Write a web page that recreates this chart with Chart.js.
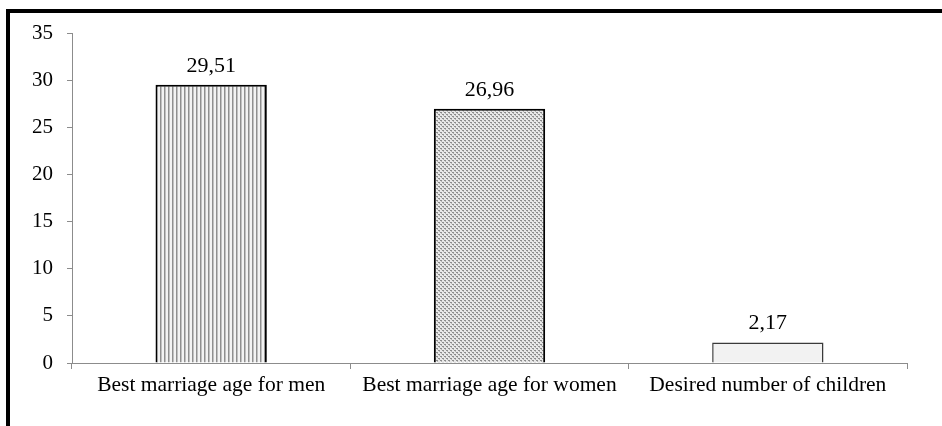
<!DOCTYPE html>
<html>
<head>
<meta charset="utf-8">
<script src="https://cdn.jsdelivr.net/npm/chart.js@4.4.1/dist/chart.umd.min.js"></script>
<style>
  html, body { margin: 0; padding: 0; background: #fff; }
  #wrap { position: relative; width: 942px; height: 426px; overflow: hidden; }
  #frame { position: absolute; left: 6px; top: 9px; width: 1000px; height: 500px;
           border-top: 4px solid #000; border-left: 4px solid #000; pointer-events: none; }
  canvas { position: absolute; left: 0; top: 0; }
</style>
</head>
<body>
<div id="wrap">
  <canvas id="chart" width="942" height="426"></canvas>
  <div id="frame"></div>
</div>
<script>
const categories = ['Best marriage age for men', 'Best marriage age for women', 'Desired number of children'];
const values = [29.51, 26.96, 2.17];
const valueLabels = ['29,51', '26,96', '2,17'];
const yTicks = [0, 5, 10, 15, 20, 25, 30, 35];

const FONT = '"Liberation Serif", "Times New Roman", serif';

// Vertical stripe fill
function stripePattern() {
  const c = document.createElement('canvas');
  c.width = 4; c.height = 4;
  const g = c.getContext('2d');
  g.fillStyle = '#f2f2f2'; g.fillRect(0, 0, 4, 4);
  g.fillStyle = '#8e8e8e'; g.fillRect(0, 0, 1, 4);
  g.fillStyle = '#c0c0c0'; g.fillRect(1, 0, 1, 4);
  return g.createPattern(c, 'repeat');
}
// Fine dotted fill
function dotPattern() {
  const c = document.createElement('canvas');
  c.width = 4; c.height = 4;
  const g = c.getContext('2d');
  g.fillStyle = '#e8e8e8'; g.fillRect(0, 0, 4, 4);
  g.fillStyle = '#8c8c8c';
  g.fillRect(0, 0, 2, 1); g.fillRect(2, 2, 2, 1);
  g.fillStyle = '#b4b4b4';
  g.fillRect(1, 1, 1, 1); g.fillRect(3, 3, 1, 1);
  return g.createPattern(c, 'repeat');
}

const valueLabelPlugin = {
  id: 'valueLabels',
  afterDatasetsDraw(chart) {
    const ctx = chart.ctx;
    const meta = chart.getDatasetMeta(0);
    ctx.save();
    ctx.font = '22px ' + FONT;
    ctx.fillStyle = '#000';
    ctx.textAlign = 'center';
    ctx.textBaseline = 'bottom';
    meta.data.forEach((bar, i) => {
      ctx.fillText(valueLabels[i], bar.x, bar.y - 8);
    });
    ctx.restore();
  }
};

new Chart(document.getElementById('chart'), {
  type: 'bar',
  data: {
    labels: categories,
    datasets: [{
      data: values,
      backgroundColor: [stripePattern(), dotPattern(), '#f2f2f2'],
      borderColor: ['#000', '#000', '#3a3a3a'],
      borderWidth: [2, 2, 1.5],
      barPercentage: 0.4,
      categoryPercentage: 1.0
    }]
  },
  options: {
    responsive: false,
    animation: false,
    layout: { padding: { left: 0, top: 33, right: 35, bottom: 0 } },
    plugins: { legend: { display: false }, tooltip: { enabled: false } },
    scales: {
      x: {
        grid: { drawOnChartArea: false, drawTicks: true, tickLength: 6, color: '#8c8c8c', offset: true },
        border: { color: '#8c8c8c', width: 1 },
        ticks: { color: '#000', font: { family: FONT, size: 21.5 }, padding: 3, maxRotation: 0 },
        afterFit(scale) { scale.height = 63; }
      },
      y: {
        min: 0, max: 35,
        afterBuildTicks(scale) { scale.ticks = yTicks.map(v => ({ value: v })); },
        grid: { drawOnChartArea: false, drawTicks: true, tickLength: 5, color: '#8c8c8c' },
        border: { color: '#8c8c8c', width: 1 },
        ticks: { color: '#000', font: { family: FONT, size: 21 }, padding: 14 },
        afterFit(scale) { scale.width = 72; }
      }
    }
  },
  plugins: [valueLabelPlugin]
});
</script>
</body>
</html>
